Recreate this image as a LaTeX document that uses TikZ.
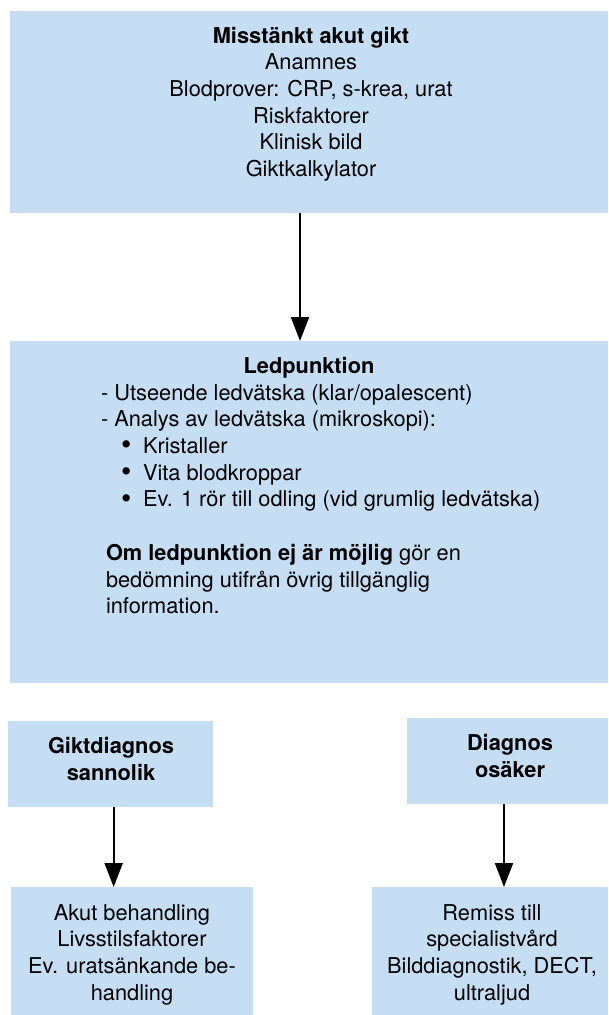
\documentclass[tikz,border=0pt]{standalone}
\usepackage{fontspec}
\usepackage{graphicx}
\setmainfont{TeX Gyre Heros}
\usetikzlibrary{arrows.meta}
\definecolor{boxblue}{RGB}{198,222,243}
\newcommand{\bulitem}{\makebox[20pt][l]{}\makebox[22pt][l]{\raisebox{-1.2pt}{\scalebox{1.35}{\textbullet}}}}
\tikzset{
  box/.style={fill=boxblue, draw=none, rectangle, inner sep=0pt, outer sep=0pt, anchor=north west},
  txt/.style={inner sep=0pt, outer sep=0pt, font=\fontsize{21.8}{26.7}\selectfont},
  ctxt/.style={txt, align=center, anchor=north},
  ltxt/.style={txt, align=left, anchor=north west},
  arr/.style={line width=2pt, -{Triangle[length=24pt,width=18pt]}}
}
\begin{document}
\begin{tikzpicture}[x=1pt,y=-1pt]
\useasboundingbox (0,0) rectangle (608,1015);
% boxes
\node[box, minimum width=598pt, minimum height=201.7pt] (b1) at (10,11) {};
\node[box, minimum width=598pt, minimum height=342pt] (b2) at (10,341) {};
\node[box, minimum width=204.7pt, minimum height=85.7pt] (g1) at (8,721) {};
\node[box, minimum width=201pt, minimum height=85.7pt] (d1) at (407,718) {};
\node[box, minimum width=241.7pt, minimum height=128pt] (t1) at (11,887) {};
\node[box, minimum width=236pt, minimum height=128pt] (t2) at (372,887) {};
% texts
\node[ctxt] (b1t) at (311,26.9) {\textbf{Misstänkt akut gikt}\\Anamnes\\Blodprover: CRP, s-krea, urat\\Riskfaktorer\\Klinisk bild\\Giktkalkylator};
\node[ctxt] (b2t) at (309,356.9) {\textbf{Ledpunktion}};
\node[ltxt] (b2l) at (101,384.2) {- Utseende ledvätska (klar/opalescent)\\- Analys av ledvätska (mikroskopi):\\\bulitem Kristaller\\\bulitem Vita blodkroppar\\\bulitem Ev. 1 rör till odling (vid grumlig ledvätska)};
\node[ltxt] (b2o) at (106,544.2) {\textbf{Om ledpunktion ej är möjlig} gör en\\bedömning utifrån övrig tillgänglig\\information.};
\node[ctxt] (g1t) at (111,737.5) {\textbf{Giktdiagnos}\\\textbf{sannolik}};
\node[ctxt] (d1t) at (510,734.2) {\textbf{Diagnos}\\\textbf{osäker}};
\node[ctxt] (t1t) at (132,904.2) {Akut behandling\\Livsstilsfaktorer\\Ev. uratsänkande be-\\handling};
\node[ctxt] (t2t) at (492,904.2) {Remiss till\\specialistvård\\Bilddiagnostik, DECT,\\ultraljud};
% arrows
\draw[arr] ([xshift=-9pt]b1.south) -- ([xshift=-9pt]b1.south |- b2.north);
\draw[arr] ([xshift=3.3pt]g1.south) -- ([xshift=3.3pt]g1.south |- t1.north);
\draw[arr] ([xshift=-3.5pt]d1.south) -- ([xshift=-3.5pt]d1.south |- t2.north);
\end{tikzpicture}
\end{document}
